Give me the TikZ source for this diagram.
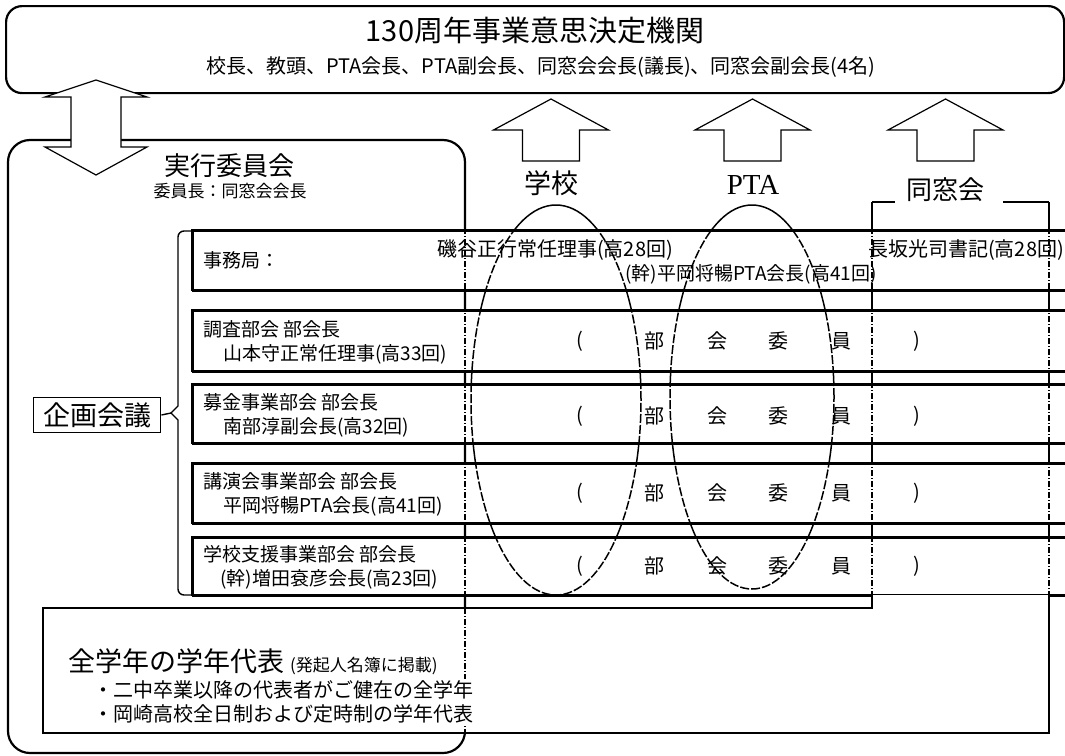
\documentclass[tikz,border=0pt]{standalone}
\usepackage{fontspec}
\setmainfont{Noto Sans CJK JP}
\newfontfamily\latinserif{Liberation Serif}
\newcommand{\fsz}[1]{\fontsize{#1}{#1}\selectfont}
\begin{document}
\begin{tikzpicture}[x=1pt,y=-1pt,
  frame/.style={draw,line width=2.2pt},
  rowbox/.style={draw,fill=white,line width=1.8pt,anchor=north west,inner sep=0pt,minimum width=880pt,minimum height=#1},
  blockarrow/.style={draw,fill=white,line width=1.2pt,line join=miter},
  ring/.style={line width=1.5pt},
  ringdash/.style={line width=1.5pt,dash pattern=on 9pt off 2pt},
  vline/.style={line width=1.5pt},
  vdash/.style={line width=1.6pt,dash pattern=on 6pt off 2pt on 1pt off 2pt},
  txt/.style={inner sep=0pt,anchor=west},
  rowtxt/.style={inner sep=0pt,anchor=west,font=\fsz{19}},
  cell/.style={inner sep=0pt,font=\fsz{20}},
  uparr/.pic={\draw[blockarrow] (-57.5,31) -- (0,0) -- (57.5,31) -- (28.5,31) -- (28.5,62) -- (-28.5,62) -- (-28.5,31) -- cycle;}
]
\useasboundingbox (0,0) rectangle (1065,755);
\clip (0,0) rectangle (1065,755);
\fill[white] (0,0) rectangle (1065,755);

% top decision body
\node[frame,rounded corners=16pt,anchor=north west,minimum width=1058pt,minimum height=87pt,inner sep=0pt] (topbox) at (5,5) {};
\node[inner sep=0pt] (title) at (535,31) {\fsz{29}130周年事業意思決定機関};
\node[inner sep=0pt] (members) at (541,67) {\fsz{20}校長、教頭、PTA会長、PTA副会長、同窓会会長(議長)、同窓会副会長(4名)};

% executive committee frame
\draw[frame,rounded corners=22pt] (8,140) rectangle (465,753);

% solid underlays (ellipses and column lines)
\draw[ring] (556,400) ellipse [x radius=85pt, y radius=195pt];
\draw[ring] (752,397) ellipse [x radius=82pt, y radius=192pt];
\draw[vline] (872,202) -- (872,608);
\draw[vline] (1049,202) -- (1049,733);
\draw[vline] (872,202) -- (895,202);
\draw[vline] (1003,202) -- (1049,202);

% rows
\node[rowbox=60pt] (r1) at (192,230) {};
\node[rowbox=61pt] (r2) at (192,310) {};
\node[rowbox=59pt] (r3) at (192,384) {};
\node[rowbox=60pt] (r4) at (192,463) {};
\node[rowbox=58pt] (r5) at (192,537) {};

% dashed overlays inside rows
\begin{scope}
\clip (192,230) rectangle (1070,290) (192,310) rectangle (1070,371) (192,384) rectangle (1070,443) (192,463) rectangle (1070,523) (192,537) rectangle (1070,595);
\draw[ringdash] (556,400) ellipse [x radius=85pt, y radius=195pt];
\draw[ringdash] (752,397) ellipse [x radius=82pt, y radius=192pt];
\draw[vdash] (465,228) -- (465,598);
\draw[vdash] (872,228) -- (872,598);
\draw[vdash] (1049,228) -- (1049,598);
\end{scope}
\draw[line width=1.8pt] (192,230) rectangle (1075,290) (192,310) rectangle (1075,371) (192,384) rectangle (1075,443) (192,463) rectangle (1075,523) (192,537) rectangle (1075,595);

% bottom box
\draw[frame,fill=white] (872,595) -- (872,608) -- (43,608) -- (43,733) -- (1049,733) -- (1049,595);
\draw[vdash] (465,608) -- (465,733);

% planning meeting and brace
\node[draw,line width=1.8pt,minimum width=127pt,minimum height=35pt,inner sep=0pt] (kikaku) at (97,415) {\fsz{27}企画会議};
\coordinate (tip) at (171,413);
\draw[line width=1.4pt] (192,231) [rounded corners=6pt] -| (178,300) [sharp corners] -- (178,406) -- (tip) -- (178,420) -- (178,500) [rounded corners=6pt] |- (192,595);
\draw[line width=1.4pt] (kikaku.east) -- (tip);

% arrows
\draw[blockarrow] (96,80) -- (147,97) -- (121,97) -- (121,147) -- (147,147) -- (96,175) -- (45,147) -- (71,147) -- (71,97) -- (45,97) -- cycle;
\pic at (551,99) {uparr};
\pic at (752.5,99) {uparr};
\pic at (945.5,99) {uparr};

% labels
\node[inner sep=0pt] (school) at (551,183) {\fsz{27}学校};
\node[inner sep=0pt] (pta) at (753,185) {\latinserif\fsz{29}PTA};
\node[inner sep=0pt,fill=white,inner xsep=3pt] (dosokai) at (945,190) {\fsz{26}同窓会};
\node[inner sep=0pt] (jikko) at (229,166) {\fsz{26}実行委員会};
\node[inner sep=0pt] (iincho) at (230,191) {\fsz{17}委員長：同窓会会長};

% row 1 texts
\node[rowtxt] (jimu) at (203,260) {事務局：};
\node[txt,font=\fsz{20}] (isogai) at (437,250) {磯谷正行常任理事(高28回)};
\node[txt,font=\fsz{19}] (hiraokaA) at (625,274) {(幹)平岡将暢PTA会長(高41回)};
\node[txt,font=\fsz{20}] (nagasaka) at (868,250) {長坂光司書記(高28回)};

% rows 2-5 texts
\node[rowtxt] (c2a) at (203,329) {調査部会 部会長};
\node[rowtxt] (c2b) at (223,354) {山本守正常任理事(高33回)};
\node[rowtxt] (c3a) at (203,402) {募金事業部会 部会長};
\node[rowtxt] (c3b) at (223,427) {南部淳副会長(高32回)};
\node[rowtxt] (c4a) at (203,481) {講演会事業部会 部会長};
\node[rowtxt] (c4b) at (223,506) {平岡将暢PTA会長(高41回)};
\node[rowtxt] (c5a) at (203,554) {学校支援事業部会 部会長};
\node[rowtxt] (c5b) at (220,579) {(幹)増田袞彦会長(高23回)};

\foreach \yy [count=\k] in {341,416,493,566} {
  \node[cell] (pa\k) at (580,\yy) {(};
  \node[cell] (bu\k) at (654,\yy) {部};
  \node[cell] (kai\k) at (717,\yy) {会};
  \node[cell] (i\k) at (778,\yy) {委};
  \node[cell] (in\k) at (841,\yy) {員};
  \node[cell] (pb\k) at (917,\yy) {)};
}

% bottom texts
\node[txt,fill=white,inner ysep=2pt] (allgrade) at (68,662) {\fsz{27}全学年の学年代表\hspace{6pt}\fsz{17}(発起人名簿に掲載)};
\node[anchor=north west,inner sep=1pt,fill=white,align=left,font=\fontsize{20}{24}\selectfont] (bullets) at (92,679) {・二中卒業以降の代表者がご健在の全学年\\・岡崎高校全日制および定時制の学年代表};
\end{tikzpicture}
\end{document}
